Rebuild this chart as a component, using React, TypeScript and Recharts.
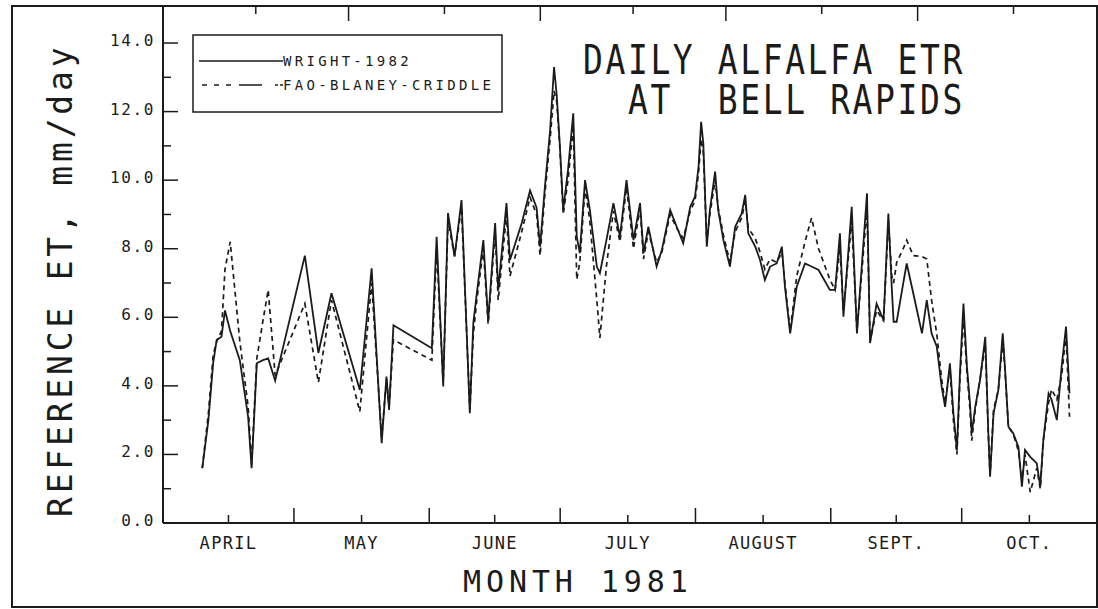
import { LineChart, Line, XAxis, YAxis, Legend } from "recharts"

// x = days after April 1, 1981 ; y = mm/day
const days = [
  9.0, 10.4, 11.5, 12.3, 13.4, 14.2, 15.4, 17.6, 19.5, 20.3, 21.5, 22.9, 24.1, 25.7,
  32.5, 35.6, 38.6, 45.1, 47.8, 50.1, 51.2, 51.8, 52.8, 61.6, 62.7, 64.2, 65.3, 66.8,
  68.4, 70.3, 71.1, 71.9, 73.4, 74.5, 76.1, 76.8, 78.7, 79.5, 82.2, 84.1, 85.6, 86.4,
  87.5, 88.7, 89.6, 90.2, 90.9, 91.7, 92.8, 94.0, 94.8, 95.5, 96.7, 97.8, 99.4, 100.1,
  101.6, 103.2, 104.7, 106.2, 107.8, 109.3, 110.1, 111.2, 113.1, 114.3, 116.2, 117.7,
  119.2, 120.8, 121.9, 122.7, 123.3, 123.8, 124.6, 125.3, 126.5, 127.2, 128.4, 129.9,
  131.1, 132.6, 133.4, 134.1, 135.7, 136.8, 137.9, 139.1, 140.6, 141.8, 142.5, 143.7,
  145.2, 147.1, 148.6, 150.2, 152.8, 154.0, 155.1, 155.9, 157.8, 159.0, 160.1, 161.3,
  162.0, 163.5, 165.1, 166.2, 167.0, 167.4, 168.1, 169.6, 170.4, 171.9, 173.9, 175.0,
  176.1, 177.3, 178.4, 179.2, 180.3, 181.1, 181.9, 182.6, 183.4, 184.2, 184.9, 185.3,
  186.1, 187.2, 188.4, 189.1, 189.5, 190.3, 191.4, 192.4, 192.9, 193.7, 194.8, 196.0,
  196.8, 197.5, 198.7, 200.2, 201.0, 201.7, 202.9, 203.6, 204.8, 205.9, 206.9, 207.7,
]

const wright1982 = [
  1.6, 3.0, 4.67, 5.34, 5.43, 6.2, 5.6, 4.75, 3.1, 1.6, 4.66, 4.75, 4.8, 4.15,
  7.8, 4.96, 6.7, 3.88, 7.43, 2.33, 4.27, 3.3, 5.77, 5.1, 8.35, 3.98, 9.04, 7.77,
  9.42, 3.2, 5.83, 6.7, 8.25, 5.9, 8.75, 6.8, 9.33, 7.67, 8.75, 9.7, 9.2, 8.06,
  9.8, 11.46, 13.3, 12.5, 11.08, 9.13, 10.3, 11.95, 8.35, 7.87, 10.0, 9.13, 7.48, 7.29,
  8.25, 9.33, 8.35, 10.0, 8.25, 9.33, 7.87, 8.64, 7.48, 7.96, 9.13, 8.64,
  8.16, 9.22, 9.52, 10.39, 11.7, 11.07, 8.06, 9.13, 10.25, 9.13, 8.25, 7.48,
  8.64, 9.03, 9.57, 8.45, 8.06, 7.67, 7.09, 7.48, 7.57, 8.06, 6.89, 5.53,
  6.89, 7.57, 7.48, 7.38, 6.8, 6.8, 8.45, 6.02, 9.22, 5.53, 7.48, 9.62,
  5.25, 6.4, 5.92, 9.03, 6.8, 5.87, 5.87, 6.99, 7.57, 6.7, 5.53, 6.5,
  5.53, 5.14, 3.98, 3.39, 4.66, 3.2, 2.13, 4.37, 6.4, 4.56, 3.49, 2.62,
  3.39, 4.17, 5.43, 2.62, 1.35, 3.2, 3.88, 5.53, 4.56, 2.81, 2.62, 2.22,
  1.06, 2.13, 1.93, 1.74, 1.06, 2.42, 3.78, 3.59, 3.0, 4.56, 5.73, 3.78,
]

const faoBlaneyCriddle = [
  1.6, 3.2, 4.9, 5.3, 5.6, 7.4, 8.2, 5.3, 3.4, 1.7, 4.8, 5.9, 6.8, 4.3,
  6.4, 4.1, 6.5, 3.25, 7.0, 2.5, 4.2, 3.4, 5.34, 4.75, 8.0, 4.1, 8.8, 7.8,
  9.2, 3.3, 5.5, 6.5, 8.0, 5.8, 8.5, 6.5, 9.0, 7.2, 8.5, 9.5, 9.0, 7.8,
  9.6, 11.2, 12.6, 12.3, 11.0, 9.0, 10.0, 11.6, 7.1, 7.6, 9.8, 8.8, 6.5, 5.4,
  7.5, 9.1, 8.2, 9.8, 8.0, 9.2, 7.7, 8.5, 7.6, 7.9, 9.0, 8.6,
  8.3, 9.1, 9.4, 10.2, 11.2, 10.8, 8.2, 9.0, 10.0, 9.2, 8.4, 7.6,
  8.5, 8.9, 9.4, 8.6, 8.3, 7.9, 7.4, 7.7, 7.6, 7.9, 7.0, 5.6,
  7.2, 8.2, 8.9, 8.0, 7.1, 6.8, 8.0, 6.2, 8.8, 5.6, 7.3, 9.2,
  5.3, 6.2, 5.9, 8.8, 7.2, 7.0, 7.6, 8.0, 8.25, 7.8, 7.77, 7.7,
  6.5, 5.5, 4.2, 3.5, 4.5, 3.0, 2.0, 4.2, 6.0, 4.4, 3.3, 2.4,
  3.3, 4.2, 5.2, 2.6, 1.4, 3.3, 3.9, 5.3, 4.5, 2.8, 2.6, 2.1,
  1.2, 2.0, 0.9, 1.6, 1.0, 2.4, 3.5, 3.9, 3.6, 4.3, 5.5, 3.1,
]

const monthStarts = [0, 30, 61, 91, 122, 153, 183, 214]
const monthMids = [15, 45.5, 76, 106.5, 137.5, 168, 198.5]
const monthLabels = ["APRIL", "MAY", "JUNE", "JULY", "AUGUST", "SEPT.", "OCT."]
const etTicks = [0, 1, 2, 3, 4, 5, 6, 7, 8, 9, 10, 11, 12, 13, 14]
const etDomain = [0, 15.08]

const INK = "#1b1b1b"
const FONT = "'DejaVu Sans Mono', 'Liberation Mono', monospace"

const rows = days.map((d, i) => ({ day: d, wright: wright1982[i], fao: faoBlaneyCriddle[i] }))
const xTicks = [...monthStarts, ...monthMids].sort((a, b) => a - b)

function LeftTick(props: any) {
  const { x, y, payload } = props
  const major = payload.value % 2 === 0
  return (
    <g>
      <line x1={x} x2={x + (major ? 15 : 8)} y1={y} y2={y} stroke={INK} strokeWidth={1.5} />
      {major && (
        <text x={x - 8} y={y + 3} textAnchor="end" fontFamily={FONT} fontSize={16} letterSpacing={1.6} fill={INK}>
          {payload.value.toFixed(1)}
        </text>
      )}
    </g>
  )
}

function RightTick(props: any) {
  const { x, y } = props
  return <line x1={x} x2={x - 13} y1={y} y2={y} stroke={INK} strokeWidth={1.5} />
}

function BottomTick(props: any) {
  const { x, y, payload } = props
  const idx = monthMids.indexOf(payload.value)
  const isMid = idx >= 0
  return (
    <g>
      <line x1={x} x2={x} y1={y} y2={y - (isMid ? 8 : 15)} stroke={INK} strokeWidth={1.5} />
      {isMid && (
        <text x={x} y={y + 26} textAnchor="middle" fontFamily={FONT} fontSize={17} letterSpacing={1.3} fill={INK}>
          {monthLabels[idx]}
        </text>
      )}
    </g>
  )
}

function TopTick(props: any) {
  const { x, y, payload } = props
  const isMid = monthMids.indexOf(payload.value) >= 0
  return <line x1={x} x2={x} y1={y} y2={y + (isMid ? 8 : 15)} stroke={INK} strokeWidth={1.5} />
}

function LegendBox() {
  const text = { fontFamily: FONT, fontSize: 14, letterSpacing: 3.3, fill: INK }
  return (
    <svg width={312} height={80} style={{ display: "block" }}>
      <rect x={1} y={1} width={309} height={77} fill="#fff" stroke={INK} strokeWidth={1.5} />
      <line x1={7} x2={91} y1={27} y2={27} stroke={INK} strokeWidth={1.6} />
      <text x={91} y={32} {...text}>WRIGHT-1982</text>
      <line x1={10} x2={91} y1={51} y2={51} stroke={INK} strokeWidth={1.6} strokeDasharray="5 7 5 7 5 8 23 13 3 2" />
      <text x={91} y={56} {...text}>FAO-BLANEY-CRIDDLE</text>
    </svg>
  )
}

export default function App() {
  return (
    <div style={{ position: "absolute", left: 0, top: 0, width: 1098, height: 609, background: "#fff" }}>
      <LineChart width={1098} height={609} data={rows} margin={{ top: 5, right: 1, bottom: 85, left: 12 }}>
        <rect x={12} y={6} width={1085} height={601} fill="none" stroke={INK} strokeWidth={2} />
        <XAxis
          dataKey="day"
          type="number"
          domain={[0, 214]}
          ticks={xTicks}
          interval={0}
          height={1}
          tickSize={0}
          tickMargin={0}
          tickLine={false}
          axisLine={{ stroke: INK, strokeWidth: 2 }}
          tick={<BottomTick />}
        />
        <XAxis
          xAxisId="top"
          orientation="top"
          type="number"
          domain={[0, 214]}
          ticks={xTicks}
          interval={0}
          height={1}
          tickSize={0}
          tickMargin={0}
          tickLine={false}
          axisLine={{ stroke: INK, strokeWidth: 2 }}
          tick={<TopTick />}
        />
        <YAxis
          type="number"
          domain={etDomain}
          ticks={etTicks}
          interval={0}
          width={151}
          tickSize={0}
          tickMargin={0}
          tickLine={false}
          axisLine={{ stroke: INK, strokeWidth: 2 }}
          tick={<LeftTick />}
        />
        <YAxis
          yAxisId="right"
          orientation="right"
          type="number"
          domain={etDomain}
          ticks={etTicks}
          interval={0}
          width={0}
          tickSize={0}
          tickMargin={0}
          tickLine={false}
          axisLine={{ stroke: INK, strokeWidth: 2 }}
          tick={<RightTick />}
        />
        <Legend
          layout="horizontal"
          verticalAlign="middle"
          align="center"
          content={<LegendBox />}
          wrapperStyle={{ position: "absolute", left: 192, top: 34, width: 312, height: 80 }}
        />
        <Line
          type="linear"
          dataKey="fao"
          name="FAO-BLANEY-CRIDDLE"
          stroke={INK}
          strokeWidth={1.7}
          strokeDasharray="5 4"
          dot={false}
          isAnimationActive={false}
        />
        <Line
          type="linear"
          dataKey="wright"
          name="WRIGHT-1982"
          stroke={INK}
          strokeWidth={1.8}
          dot={false}
          isAnimationActive={false}
        />
        {/* title, two lines in one text so they read as one block */}
        <text transform="scale(1,1.25)" fontFamily={FONT} fontSize={33} letterSpacing={2.6} fill={INK} style={{ whiteSpace: "pre" }}>
          <tspan x={583} y={59.2}>DAILY ALFALFA ETR</tspan>
          <tspan x={628} y={91.2}>{"AT  BELL RAPIDS"}</tspan>
        </text>
        <text x={463} y={592} fontFamily={FONT} fontSize={30} letterSpacing={4.9} fill={INK} style={{ whiteSpace: "pre" }}>
          MONTH 1981
        </text>
        <text transform="translate(72,517) rotate(-90)" fontFamily={FONT} fontSize={33} letterSpacing={3.8} fill={INK} style={{ whiteSpace: "pre" }}>
          REFERENCE ET, mm/day
        </text>
      </LineChart>
    </div>
  )
}
